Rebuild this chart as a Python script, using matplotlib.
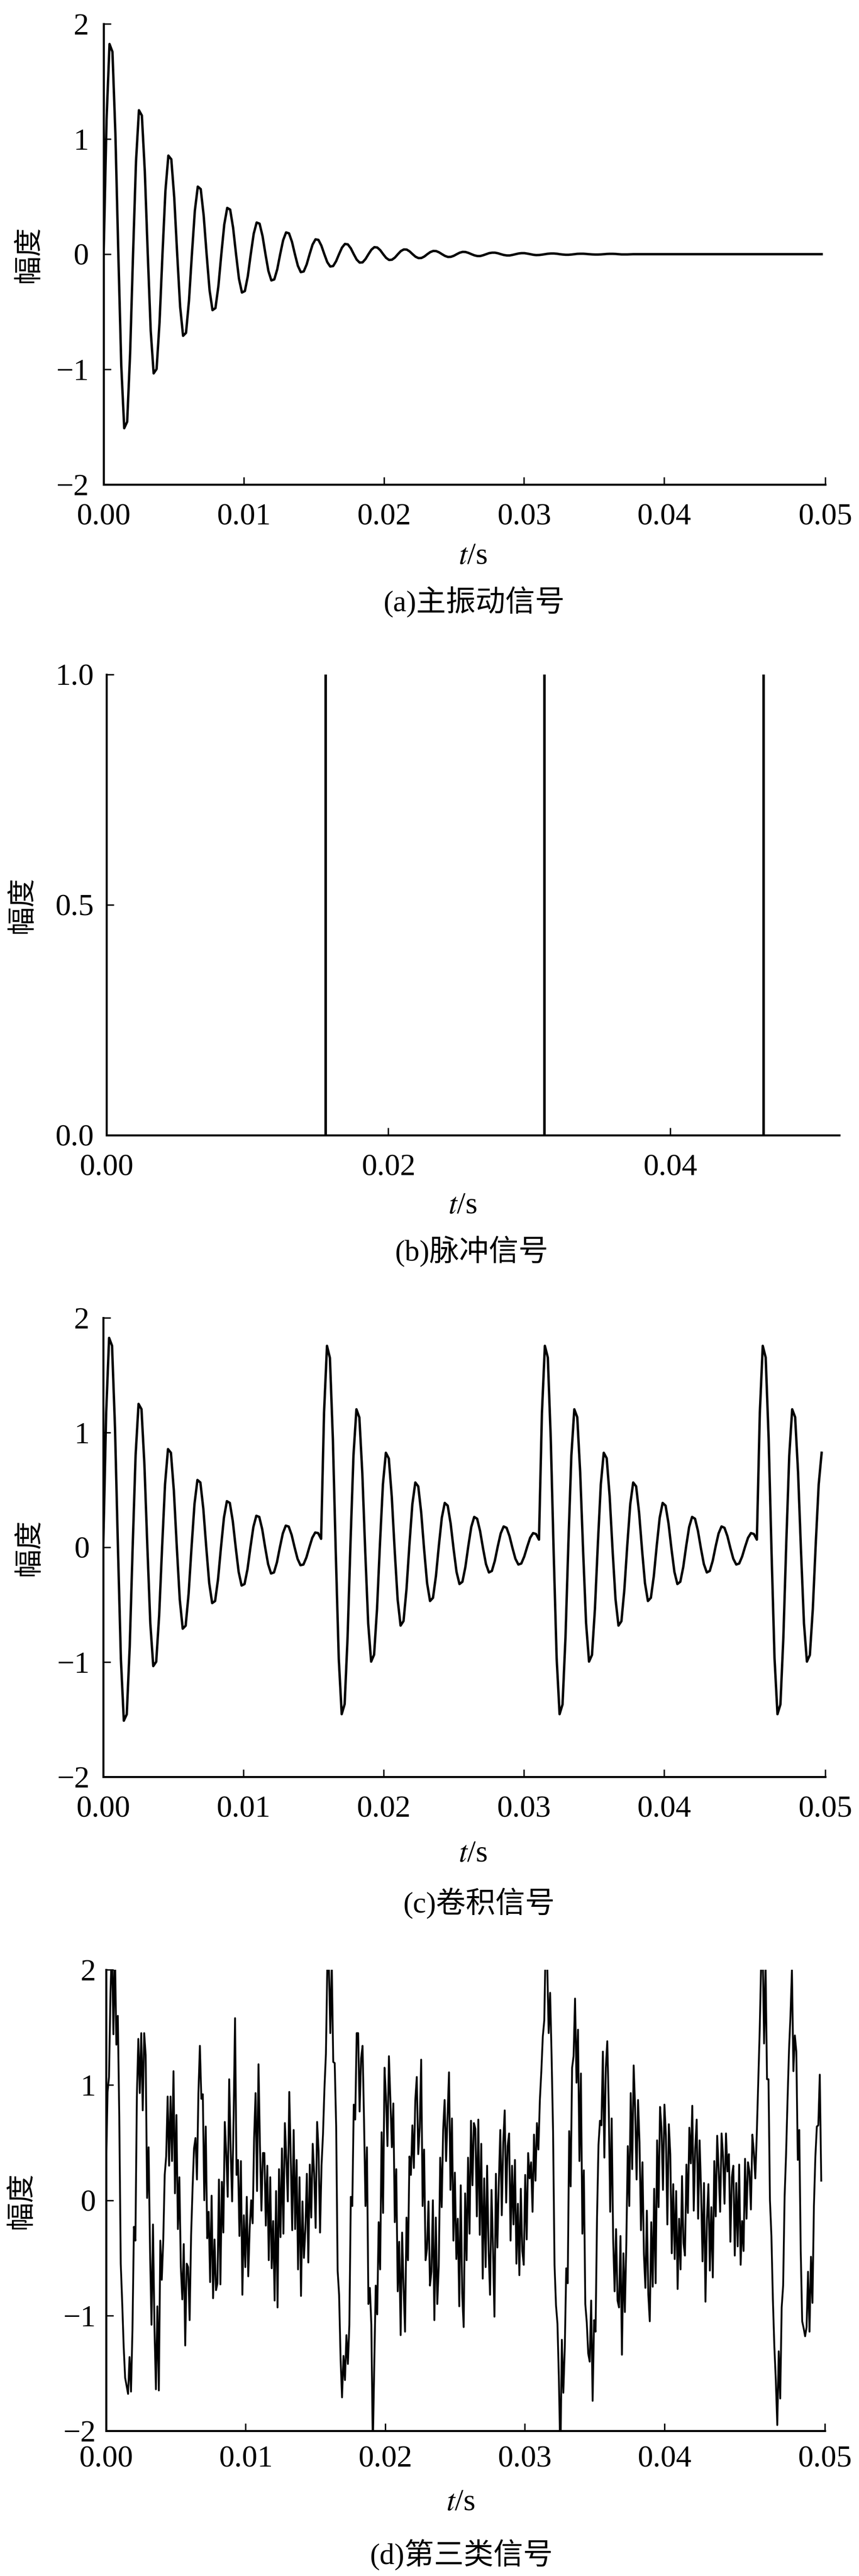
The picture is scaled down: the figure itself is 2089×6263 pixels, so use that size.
import numpy as np
import matplotlib
matplotlib.use("Agg")
import matplotlib.pyplot as plt

plt.rcParams['font.family'] = ['Liberation Serif', 'Noto Sans CJK SC']
plt.rcParams['mathtext.fontset'] = 'stix'
plt.rcParams['axes.unicode_minus'] = True

# sampling step of the smooth signals (s) and of the noisy one
dt_main = 0.00021
dt_noisy = 0.000105

# (a) main vibration signal
sig_main = [
    0, 1.172, 1.825, 1.757, 1.046, 0, -0.970, -1.511, -1.455, -0.866,
    0, 0.803, 1.250, 1.204, 0.717, 0, -0.664, -1.035, -0.997, -0.593,
    0, 0.550, 0.856, 0.824, 0.491, 0, -0.455, -0.709, -0.683, -0.406,
    0, 0.377, 0.587, 0.565, 0.336, 0, -0.312, -0.486, -0.468, -0.278,
    0, 0.258, 0.402, 0.387, 0.230, 0, -0.214, -0.333, -0.320, -0.191,
    0, 0.177, 0.275, 0.265, 0.158, 0, -0.146, -0.228, -0.219, -0.131,
    0, 0.121, 0.189, 0.181, 0.108, 0, -0.100, -0.156, -0.150, -0.089,
    0, 0.083, 0.129, 0.124, 0.074, 0, -0.069, -0.107, -0.103, -0.061,
    0, 0.057, 0.089, 0.085, 0.051, 0, -0.047, -0.073, -0.071, -0.042,
    0, 0.039, 0.061, 0.058, 0.035, 0, -0.032, -0.050, -0.048, -0.029,
    0, 0.027, 0.041, 0.040, 0.024, 0, -0.022, -0.034, -0.033, -0.020,
    0, 0.018, 0.028, 0.027, 0.016, 0, -0.015, -0.024, -0.023, -0.014,
    0, 0.013, 0.020, 0.019, 0.011, 0, -0.010, -0.016, -0.016, -0.009,
    0, 0.009, 0.013, 0.013, 0.008, 0, -0.007, -0.011, -0.011, -0.006,
    0, 0.006, 0.009, 0.009, 0.005, 0, -0.005, -0.008, -0.007, -0.004,
    0, 0.004, 0.006, 0.006, 0.004, 0, -0.003, -0.005, -0.005, -0.003,
    0, 0.003, 0.004, 0.004, 0.002, 0, -0.002, -0.003, -0.003, -0.002,
    0, 0.002, 0.003, 0.003, 0.002, 0, -0.002, -0.002, -0.002, -0.001,
    0, 0, 0, 0, 0, 0, 0, 0, 0, 0,
    0, 0, 0, 0, 0, 0, 0, 0, 0, 0,
    0, 0, 0, 0, 0, 0, 0, 0, 0, 0,
    0, 0, 0, 0, 0, 0, 0, 0, 0, 0,
    0, 0, 0, 0, 0, 0, 0, 0, 0, 0,
    0, 0, 0, 0, 0, 0, 0, 0, 0, 0,
    0, 0, 0, 0, 0,
]

# (b) pulse train
pulse_times = [0.01554, 0.03108, 0.04662]
pulse_amp = [1.0, 1.0, 1.0]

# (c) convolution signal
sig_conv = [
    0, 1.172, 1.825, 1.757, 1.046, 0, -0.970, -1.511, -1.455, -0.866,
    0, 0.803, 1.250, 1.204, 0.717, 0, -0.664, -1.035, -0.997, -0.593,
    0, 0.550, 0.856, 0.824, 0.491, 0, -0.455, -0.709, -0.683, -0.406,
    0, 0.377, 0.587, 0.565, 0.336, 0, -0.312, -0.486, -0.468, -0.278,
    0, 0.258, 0.402, 0.387, 0.230, 0, -0.214, -0.333, -0.320, -0.191,
    0, 0.177, 0.275, 0.265, 0.158, 0, -0.146, -0.228, -0.219, -0.131,
    0, 0.121, 0.189, 0.181, 0.108, 0, -0.100, -0.156, -0.150, -0.089,
    0, 0.083, 0.129, 0.124, 0.074, 1.172, 1.756, 1.650, 0.943, -0.061,
    -0.970, -1.454, -1.366, -0.781, 0.051, 0.803, 1.203, 1.131, 0.646, -0.042,
    -0.664, -0.996, -0.936, -0.535, 0.035, 0.550, 0.824, 0.774, 0.443, -0.029,
    -0.455, -0.682, -0.642, -0.366, 0.024, 0.377, 0.565, 0.531, 0.303, -0.020,
    -0.312, -0.468, -0.440, -0.251, 0.016, 0.258, 0.387, 0.363, 0.207, -0.014,
    -0.214, -0.320, -0.300, -0.172, 0.011, 0.177, 0.265, 0.249, 0.142, -0.009,
    -0.146, -0.219, -0.206, -0.118, 0.008, 0.121, 0.182, 0.170, 0.097, -0.006,
    -0.100, -0.150, -0.141, -0.080, 0.005, 0.083, 0.124, 0.116,
    0.067, 1.168, 1.756, 1.654, 0.949, -0.055, -0.966, -1.454, -1.369, -0.786,
    0.046, 0.800, 1.203, 1.134, 0.650, -0.038, -0.662, -0.996, -0.938, -0.538,
    0.032, 0.548, 0.824, 0.776, 0.446, -0.026, -0.453, -0.682, -0.644, -0.368,
    0.022, 0.376,
    0.565, 0.531, 0.303, -0.020, -0.312, -0.468, -0.440, -0.251, 0.016, 0.258,
    0.387, 0.363, 0.207, -0.014, -0.214, -0.320, -0.300, -0.172, 0.011, 0.177,
    0.265, 0.249, 0.142, -0.009, -0.146, -0.219, -0.206, -0.118, 0.008, 0.121,
    0.182, 0.170, 0.097, -0.006, -0.100, -0.150, -0.141, -0.080, 0.005, 0.083,
    0.124, 0.116,
    0.067, 1.168, 1.756, 1.654, 0.949, -0.055, -0.966, -1.454, -1.369, -0.786,
    0.046, 0.800, 1.203, 1.134, 0.650, -0.038, -0.662, -0.996, -0.938, -0.538,
    0.032, 0.548, 0.824,
]

# (d) third-class signal (noisy)
sig_noisy = [
    0.25, 0.94, 1.07, 1.80, 2.23, 1.44, 2.21, 1.35, 1.60, 0.72, -0.55, -0.89, -1.27, -1.54, -1.61, -1.68, -1.36, -1.66, -1.12, -0.23,
    -0.35, 0.90, 1.40, 0.93, 1.45, 0.78, 1.45, 1.26, 0.02, 0.46, -0.45, -1.08, -0.21, -1.10, -1.64, -0.92, -1.65, -0.35, -0.69, -0.35,
    0.22, 0.38, 0.90, 0.30, 0.90, 0.34, 1.12, 0.06, 0.74, -0.25, 0.20, -0.58, -0.86, -0.38, -1.26, -0.55, -0.58, -1.04, -0.31, 0.10,
    0.45, 0.54, 0.18, 0.93, 1.34, 0.88, 0.92, 0.00, 0.64, -0.33, -0.10, -0.71, 0.04, -0.85, -0.34, -0.78, -0.72, 0.18, -0.73, 0.16,
    -0.28, 0.68, 0.41, 0.03, 1.05, 0.44, -0.01, 0.71, 1.58, 0.22, 0.35, -0.31, 0.34, -0.82, -0.13, -0.58, 0.03, -0.66, -0.24, 0.00,
    -0.20, 0.54, 0.93, 0.08, 1.18, 0.47, -0.09, 0.41, 0.41, -0.22, 0.30, -0.52, 0.20, -0.59, -0.18, -0.87, 0.08, -0.93, 0.27, -0.32,
    0.45, -0.29, 0.67, 0.36, -0.01, 0.94, 0.38, -0.26, 0.61, -0.25, 0.35, -0.60, 0.20, -0.83, -0.01, -0.50, -0.25, 0.23, -0.54, 0.31,
    -0.15, 0.49, 0.23, -0.24, 0.68, 0.43, -0.28, 0.30, 0.57, 0.97, 1.27, 2.06, 2.06, 1.45, 2.05, 1.20, 1.19, 0.64, -0.61, -0.82,
    -1.37, -1.71, -1.35, -1.56, -1.17, -1.42, -1.08, 0.03, -0.05, 0.83, 0.70, 1.45, 1.45, 0.77, 1.23, 1.34, 0.70, -0.05, 0.46, -0.90,
    -0.76, -1.08, -2.15, -1.42, -0.74, -0.99, -0.19, -0.60, 0.59, -0.11, 1.15, 0.89, 0.47, 1.25, 0.87, 0.46, 0.84, -0.19, 0.27, -0.79,
    -0.36, -1.17, -0.28, -0.76, -1.14, -0.15, -0.52, 0.38, 0.22, 0.65, 0.28, 0.87, 1.07, 0.40, 0.63, 1.22, -0.05, 0.44, -0.52, -0.42,
    -0.01, -0.74, -0.62, 0.00, -1.04, -0.15, -0.90, -0.57, 0.37, -0.06, 0.61, 0.87, 0.34, 0.73, 1.11, 0.09, 0.71, -0.35, 0.24, -0.51,
    -0.16, -0.92, 0.13, -0.81, -1.10, 0.06, -0.52, 0.37, -0.29, 0.69, 0.13, 0.67, 0.62, -0.14, 0.70, -0.30, 0.49, -0.68, 0.19, -0.58,
    0.30, -0.43, -0.82, 0.09, -0.41, -1.01, 0.23, -0.41, 0.16, 0.61, -0.13, 0.50, 0.78, -0.02, 0.47, 0.58, -0.35, 0.30, -0.21, 0.35,
    -0.55, -0.03, -0.65, 0.10, -0.44, -0.56, 0.22, -0.34, 0.41, 0.19, 0.33, -0.10, 0.57, 0.17, 0.67, 0.44, 0.87, 1.12, 1.42, 1.56,
    2.26, 2.06, 1.45, 1.80, 1.25, 0.60, -0.56, -0.91, -1.07, -1.56, -2.25, -1.21, -1.67, -1.28, -0.59, -0.72, 0.60, 0.12, 1.15, 1.25,
    1.75, 1.02, 1.48, 0.34, 1.10, -0.29, 0.26, -0.90, -1.06, -1.33, -1.40, -0.87, -1.74, -1.04, -1.14, -0.15, 0.48, 0.69, 0.65, 1.29,
    0.37, 1.15, 1.38, 0.81, -0.10, 0.71, -0.33, -0.79, -0.25, -0.87, -0.93, -0.31, -1.34, -0.46, -0.97, -0.37, 0.47, -0.05, 0.93, 0.27,
    1.17, 0.80, 0.18, 0.87, 0.50, -0.26, 0.33, -0.47, -0.76, -0.09, -0.82, -1.05, -0.19, -0.75, 0.10, -0.72, 0.52, -0.06, 0.81, 0.62,
    0.09, 0.83, 0.56, -0.21, 0.66, 0.40, -0.46, 0.14, -0.51, 0.08, -0.77, -0.16, -0.60, 0.21, -0.37, -0.48, 0.31, -0.11, 0.63, 0.32,
    0.82, -0.09, 0.45, 0.70, -0.16, 0.52, 0.09, -0.53, 0.15, -0.88, -0.17, 0.14, -0.61, -0.06, -0.67, 0.34, -0.14, 0.56, 0.27, -0.10,
    0.58, 0.38, -0.03, 0.58, 0.25, 0.40, -0.36, 0.20, 0.30, -0.48, 0.15, -0.40, 0.31, -0.56, -0.18, -0.44, 0.36, -0.16, 0.33, 0.25,
    -0.08, 0.57, 0.42, 0.19, 0.57, 1.02, 1.47, 2.06, 2.21, 1.36, 2.05, 1.05, 1.05, 0.00, -0.31, -0.86, -1.27, -1.56, -1.95, -1.31,
    -1.72, -0.93, -0.74, 0.03, 0.40, 0.87, 1.30, 1.60, 2.00, 1.12, 1.43, 1.29, 0.35, 0.61, -0.44, -1.05, -1.11, -1.18, -1.10, -0.62,
    -1.14, -0.49, -0.89, -0.05, 0.38, 0.64, 0.65, 1.09, 0.17,
]

captions = ['(a)主振动信号', '(b)脉冲信号', '(c)卷积信号', '(d)第三类信号']
ylabel_text = '幅度'
xlabel_text = r'$t$/s'

t_end = 0.0515
xticks_long = [0, 0.01, 0.02, 0.03, 0.04, t_end]
xlabels_long = ['0.00', '0.01', '0.02', '0.03', '0.04', '0.05']

W, H = 2089, 6263
fig = plt.figure(figsize=(W / 100, H / 100), dpi=100)


def box(left, right, top, bottom):
    return [left / W, 1 - bottom / H, (right - left) / W, (bottom - top) / H]


def style(ax, xpad=33, ypad=24):
    for s in ['top', 'right']:
        ax.spines[s].set_visible(False)
    for s in ['left', 'bottom']:
        ax.spines[s].set_linewidth(3.6)
    ax.tick_params(direction='in', length=13, width=2.5, labelsize=54)
    ax.tick_params(axis='x', pad=xpad)
    ax.tick_params(axis='y', pad=ypad)


def ftext(x, y, s, **kw):
    fig.text(x / W, 1 - y / H, s, ha='center', va='center', **kw)


# (a)
ax = fig.add_axes(box(252, 2007, 58, 1178))
t = np.arange(len(sig_main)) * dt_main
ax.plot(t, sig_main, color='black', lw=4.2)
ax.set_xlim(0, t_end)
ax.set_ylim(-2, 2)
ax.set_yticks([-2, -1, 0, 1, 2])
ax.set_xticks(xticks_long)
ax.set_xticklabels(xlabels_long)
style(ax, xpad=33, ypad=26)

# (b)
ax = fig.add_axes(box(259, 2041, 1640, 2760))
ax.vlines(pulse_times, 0, pulse_amp, color='black', lw=4.5)
ax.set_xlim(0, 0.052)
ax.set_ylim(0, 1)
ax.set_yticks([0, 0.5, 1.0])
ax.set_yticklabels(['0.0', '0.5', '1.0'])
ax.set_xticks([0, 0.02, 0.04])
ax.set_xticklabels(['0.00', '0.02', '0.04'])
style(ax, xpad=33, ypad=22)

# (c)
ax = fig.add_axes(box(251, 2007, 3204, 4320))
t = np.arange(len(sig_conv)) * dt_main
ax.plot(t, sig_conv, color='black', lw=4.2)
ax.set_xlim(0, t_end)
ax.set_ylim(-2, 2)
ax.set_yticks([-2, -1, 0, 1, 2])
ax.set_xticks(xticks_long)
ax.set_xticklabels(xlabels_long)
style(ax, xpad=33, ypad=24)

# (d)
ax = fig.add_axes(box(258, 2006, 4789, 5910))
t = np.arange(len(sig_noisy)) * dt_noisy
ax.plot(t, sig_noisy, color='black', lw=3.2)
ax.set_xlim(0, t_end)
ax.set_ylim(-2, 2)
ax.set_yticks([-2, -1, 0, 1, 2])
ax.set_xticks(xticks_long)
ax.set_xticklabels(xlabels_long)
style(ax, xpad=26, ypad=18)

# labels and captions
ylab_pos = [(71, 618), (55, 2200), (72, 3762), (53, 5350)]
xlab_pos = [(1150, 1353), (1125, 2932), (1150, 4508), (1120, 6085)]
cap_pos = [(1153, 1463), (1147, 3042), (1165, 4627), (1123, 6212)]
for i in range(4):
    ftext(*ylab_pos[i], ylabel_text, rotation=90, fontsize=50)
    ftext(*xlab_pos[i], xlabel_text, fontsize=54)
    ftext(*cap_pos[i], captions[i], fontsize=52)

fig.savefig('out.png', dpi=100)
